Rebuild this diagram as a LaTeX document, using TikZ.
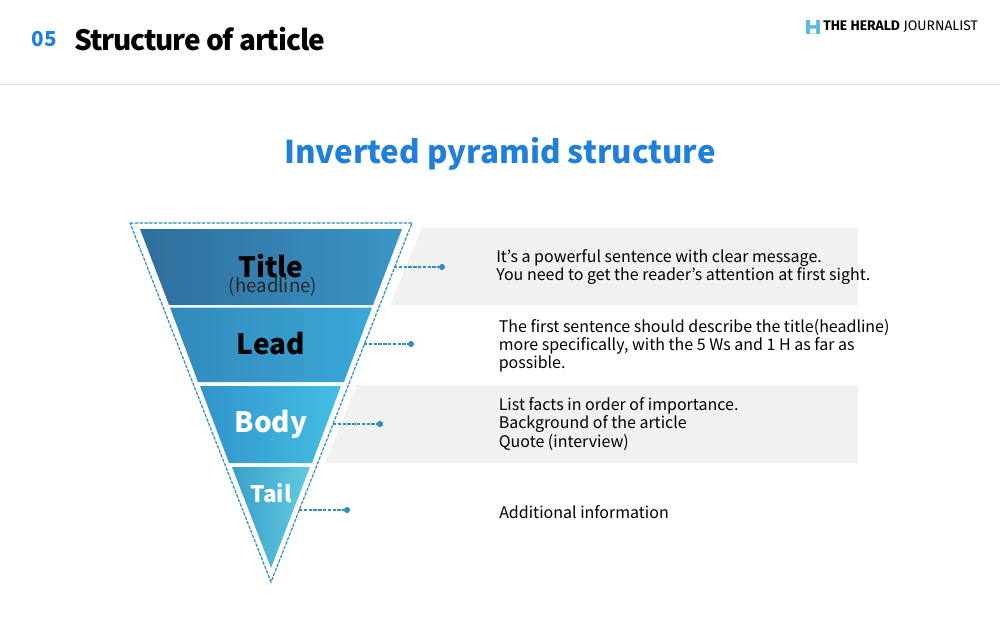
\documentclass[tikz,border=0pt]{standalone}
\usepackage{fontspec}
\setmainfont{Noto Sans CJK KR}
\newfontfamily\logofont{Fira Sans}
\definecolor{blueT}{HTML}{1F7FDB}
\definecolor{dashC}{HTML}{2E8FBF}
\definecolor{bandC}{HTML}{F1F1F1}
\definecolor{ruleC}{HTML}{DDDDDD}
\definecolor{logoC}{HTML}{5FB9DF}
\definecolor{aL}{HTML}{2F6E9C}
\definecolor{aR}{HTML}{3A95C6}
\definecolor{bL}{HTML}{3389BB}
\definecolor{bR}{HTML}{3AA8D8}
\definecolor{cL}{HTML}{3394CA}
\definecolor{cR}{HTML}{43BFE4}
\definecolor{dL}{HTML}{3AA0CB}
\definecolor{dR}{HTML}{62CBE0}
\tikzset{
  x=0.75pt,y=-0.75pt,
  band/.style={fill=bandC,draw=none},
  outline/.style={draw=dashC,line width=0.9pt,dash pattern=on 2.6pt off 1pt},
  leader/.style={draw=dashC,line width=0.8pt,dash pattern=on 2.6pt off 1pt},
  dot/.style={circle,fill=dashC,inner sep=0pt,minimum size=4.6pt},
  body/.style={anchor=west,align=left,font=\fontsize{12}{13.6}\selectfont,text=black,inner sep=0pt},
  seg/.style={anchor=center,inner sep=0pt},
}
\begin{document}
\begin{tikzpicture}
\useasboundingbox (0,0) rectangle (1000,625);
\fill[white] (0,0) rectangle (1000,625);
% header
\node[anchor=center,inner sep=0pt,text=blueT,font=\fontsize{15.5}{16}\selectfont\bfseries] (num) at (44.5,39) {05};
\node[anchor=west,inner sep=0pt,text=black,font=\fontsize{21}{22}\selectfont\bfseries] (head) at (74,39) {\addfontfeature{LetterSpace=-4}Structure of article};
\draw[ruleC,line width=0.6pt] (0,84) -- (1000,84);
% logo
\fill[logoC] (806,20) rectangle (820,33.5);
\fill[white] (810,20) rectangle (816,25) (810,28.5) rectangle (816,33.5);
\node[anchor=west,inner sep=0pt,font=\logofont\fontsize{10.4}{11}\selectfont] (logo) at (823,27) {\textbf{THE HERALD} JOURNALIST};
% title
\node[anchor=center,inner sep=0pt,text=blueT,font=\fontsize{23.5}{25}\selectfont\bfseries] (main) at (500,154) {Inverted pyramid structure};
% bands
\fill[band] (422,228) -- (858,228) -- (858,305) -- (390,305) -- cycle;
\fill[band] (357,385) -- (858,385) -- (858,463) -- (325,463) -- cycle;
% segments
\shade[left color=aL,right color=aR]
  (140,229) -- (402,229) -- (373,305) -- (169,305) -- cycle;
\shade[left color=bL,right color=bR]
  (170,307.5) -- (372,307.5) -- (344,382) -- (198,382) -- cycle;
\shade[left color=cL,right color=cR]
  (200,386) -- (341,386) -- (312,463) -- (229,463) -- cycle;
\shade[left color=dL,right color=dR]
  (232,467) -- (310,467) -- (271,568) -- cycle;
% outline
\draw[outline] (130,223) -- (412,223) -- (271,582) -- cycle;
% labels
\node[seg,text=black,font=\fontsize{21}{22}\selectfont\bfseries] (t1) at (271,266) {Title};
\node[seg,text=black!85,font=\fontsize{14}{15}\selectfont] (t1b) at (273,287) {(headline)};
\node[seg,text=black,font=\fontsize{21}{22}\selectfont\bfseries] (t2) at (271,344) {Lead};
\node[seg,text=white,font=\fontsize{21}{22}\selectfont\bfseries] (t3) at (271,424) {Body};
\node[seg,text=white,font=\fontsize{17}{18}\selectfont\bfseries] (t4) at (271,493) {Tail};
% leaders
\coordinate (s1) at (394,267); \node[dot] (d1) at (442,267) {};
\coordinate (s2) at (364,344); \node[dot] (d2) at (411,344) {};
\coordinate (s3) at (333,424); \node[dot] (d3) at (380,424) {};
\coordinate (s4) at (299,510); \node[dot] (d4) at (347,510) {};
\draw[leader] (s1) -- (d1);
\draw[leader] (s2) -- (d2);
\draw[leader] (s3) -- (d3);
\draw[leader] (s4) -- (d4);
% body text
\node[body] (b1) at (496,267) {It’s a powerful sentence with clear message.\\You need to get the reader's attention at first sight.};
\node[body] (b2) at (498.5,346) {The first sentence should describe the title(headline)\\more specifically, with the 5 Ws and 1 H as far as\\possible.};
\node[body] (b3) at (498.5,424) {List facts in order of importance.\\Background of the article\\Quote (interview)};
\node[body] (b4) at (499,512) {Additional information};
\end{tikzpicture}
\end{document}
